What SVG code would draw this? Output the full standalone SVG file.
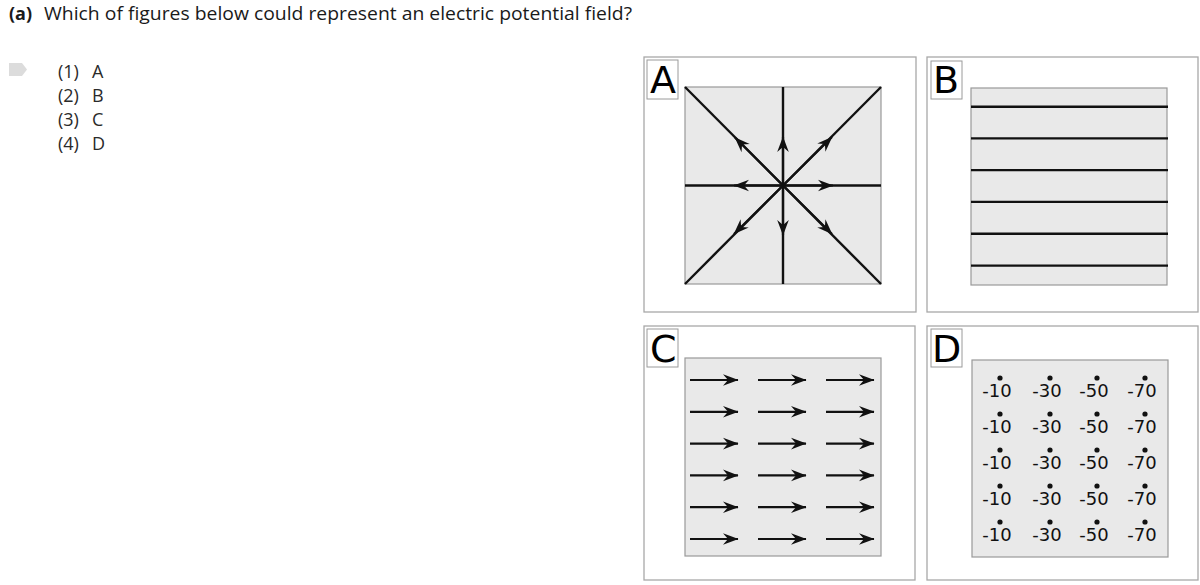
<svg xmlns="http://www.w3.org/2000/svg" width="1200" height="585" viewBox="0 0 1200 585">
<style>
.title{font-family:"Open Sans","Noto Sans",sans-serif;font-size:18px;fill:#1a1a1a}
.opt{font-family:"Open Sans","Noto Sans",sans-serif;font-size:18px;fill:#2a2a2a}
.outer{fill:#fff;stroke:#a8a8a8;stroke-width:1.3}
.lbox{fill:#fff;stroke:#9a9a9a;stroke-width:1}
.lbl{font-family:"DejaVu Sans",sans-serif;font-size:38px;fill:#000}
.inner{fill:#e9e9e9;stroke:#999;stroke-width:1.2}
.ln{stroke:#111;stroke-width:2.4;fill:none}
.ar{stroke:#111;stroke-width:2.2;fill:none;marker-end:url(#ah)}
.num{font-family:"DejaVu Sans",sans-serif;font-size:18px;fill:#111;text-anchor:middle}
</style>
<defs>
<marker id="ah" markerUnits="userSpaceOnUse" markerWidth="18" markerHeight="14" viewBox="-17 -7 18 14" refX="0" refY="0" orient="auto">
<path d="M0.5,0 L-15,-5.8 L-10,0 L-15,5.8 Z" fill="#111"/>
</marker>
</defs>
<rect width="1200" height="585" fill="#fff"/>
<g id="question">
<text class="title" x="9" y="20"><tspan font-weight="bold">(a)</tspan></text>
<text class="title" x="44" y="20" textLength="588" lengthAdjust="spacingAndGlyphs">Which of figures below could represent an electric potential field?</text>
<path d="M9,63 L22,63 L27,69.5 L22,76 L9,76 Z" fill="#dcdcdc"/>
<text class="opt" x="58" y="78">(1)</text><text class="opt" x="92" y="78">A</text>
<text class="opt" x="58" y="102">(2)</text><text class="opt" x="92" y="102">B</text>
<text class="opt" x="58" y="126">(3)</text><text class="opt" x="92" y="126">C</text>
<text class="opt" x="58" y="150">(4)</text><text class="opt" x="92" y="150">D</text>
</g>
<g id="panelA">
<rect class="outer" x="644" y="57" width="272" height="255"/>
<rect class="inner" x="685" y="87" width="196" height="197"/>
<rect class="lbox" x="647" y="60" width="31" height="39"/>
<text class="lbl" x="650" y="93">A</text>
<g id="connectorsA">
<line class="ln" x1="685" y1="87" x2="881" y2="284"/>
<line class="ln" x1="881" y1="87" x2="685" y2="284"/>
<line class="ln" x1="783" y1="87" x2="783" y2="284"/>
<line class="ln" x1="685" y1="185.5" x2="881" y2="185.5"/>
<line class="ar" x1="783" y1="185.5" x2="783" y2="137"/>
<line class="ar" x1="783" y1="185.5" x2="783" y2="235"/>
<line class="ar" x1="783" y1="185.5" x2="734" y2="185.5"/>
<line class="ar" x1="783" y1="185.5" x2="833" y2="185.5"/>
<line class="ar" x1="783" y1="185.5" x2="735" y2="137.5"/>
<line class="ar" x1="783" y1="185.5" x2="832" y2="137"/>
<line class="ar" x1="783" y1="185.5" x2="734" y2="234"/>
<line class="ar" x1="783" y1="185.5" x2="832" y2="234"/>
</g>
</g>
<g id="panelB">
<rect class="outer" x="927" y="57" width="271" height="255"/>
<rect class="inner" x="971" y="88" width="196" height="197"/>
<rect class="lbox" x="931" y="61" width="31" height="38"/>
<text class="lbl" x="933" y="93">B</text>
<g id="linesB">
<line class="ln" x1="971" y1="106.7" x2="1168" y2="106.7"/>
<line class="ln" x1="971" y1="138.4" x2="1168" y2="138.4"/>
<line class="ln" x1="971" y1="170.1" x2="1168" y2="170.1"/>
<line class="ln" x1="971" y1="201.9" x2="1168" y2="201.9"/>
<line class="ln" x1="971" y1="233.7" x2="1168" y2="233.7"/>
<line class="ln" x1="971" y1="265.6" x2="1168" y2="265.6"/>
</g>
</g>
<g id="panelC">
<rect class="outer" x="644" y="326" width="271" height="254"/>
<rect class="inner" x="685" y="358" width="196" height="198"/>
<rect class="lbox" x="647" y="329" width="31" height="38"/>
<text class="lbl" x="650" y="362">C</text>
<g id="arrowsC">
<line class="ar" x1="690" y1="380" x2="738" y2="380"/><line class="ar" x1="758" y1="380" x2="806" y2="380"/><line class="ar" x1="826" y1="380" x2="874" y2="380"/>
<line class="ar" x1="690" y1="411.8" x2="738" y2="411.8"/><line class="ar" x1="758" y1="411.8" x2="806" y2="411.8"/><line class="ar" x1="826" y1="411.8" x2="874" y2="411.8"/>
<line class="ar" x1="690" y1="443.6" x2="738" y2="443.6"/><line class="ar" x1="758" y1="443.6" x2="806" y2="443.6"/><line class="ar" x1="826" y1="443.6" x2="874" y2="443.6"/>
<line class="ar" x1="690" y1="475.4" x2="738" y2="475.4"/><line class="ar" x1="758" y1="475.4" x2="806" y2="475.4"/><line class="ar" x1="826" y1="475.4" x2="874" y2="475.4"/>
<line class="ar" x1="690" y1="507.2" x2="738" y2="507.2"/><line class="ar" x1="758" y1="507.2" x2="806" y2="507.2"/><line class="ar" x1="826" y1="507.2" x2="874" y2="507.2"/>
<line class="ar" x1="690" y1="539" x2="738" y2="539"/><line class="ar" x1="758" y1="539" x2="806" y2="539"/><line class="ar" x1="826" y1="539" x2="874" y2="539"/>
</g>
</g>
<g id="panelD">
<rect class="outer" x="927" y="326" width="271" height="254"/>
<rect class="inner" x="972" y="360" width="196" height="197"/>
<rect class="lbox" x="931" y="329" width="31" height="38"/>
<text class="lbl" x="932" y="362">D</text>
<g id="pointsD" fill="#111">
<circle cx="1000" cy="378" r="2.6"/><circle cx="1050" cy="378" r="2.6"/><circle cx="1097" cy="378" r="2.6"/><circle cx="1145" cy="378" r="2.6"/>
<circle cx="1000" cy="414" r="2.6"/><circle cx="1050" cy="414" r="2.6"/><circle cx="1097" cy="414" r="2.6"/><circle cx="1145" cy="414" r="2.6"/>
<circle cx="1000" cy="450" r="2.6"/><circle cx="1050" cy="450" r="2.6"/><circle cx="1097" cy="450" r="2.6"/><circle cx="1145" cy="450" r="2.6"/>
<circle cx="1000" cy="486" r="2.6"/><circle cx="1050" cy="486" r="2.6"/><circle cx="1097" cy="486" r="2.6"/><circle cx="1145" cy="486" r="2.6"/>
<circle cx="1000" cy="522" r="2.6"/><circle cx="1050" cy="522" r="2.6"/><circle cx="1097" cy="522" r="2.6"/><circle cx="1145" cy="522" r="2.6"/>
</g>
<g id="valuesD">
<text class="num" x="997" y="397">-10</text><text class="num" x="1047" y="397">-30</text><text class="num" x="1094" y="397">-50</text><text class="num" x="1142" y="397">-70</text>
<text class="num" x="997" y="433">-10</text><text class="num" x="1047" y="433">-30</text><text class="num" x="1094" y="433">-50</text><text class="num" x="1142" y="433">-70</text>
<text class="num" x="997" y="469">-10</text><text class="num" x="1047" y="469">-30</text><text class="num" x="1094" y="469">-50</text><text class="num" x="1142" y="469">-70</text>
<text class="num" x="997" y="505">-10</text><text class="num" x="1047" y="505">-30</text><text class="num" x="1094" y="505">-50</text><text class="num" x="1142" y="505">-70</text>
<text class="num" x="997" y="541">-10</text><text class="num" x="1047" y="541">-30</text><text class="num" x="1094" y="541">-50</text><text class="num" x="1142" y="541">-70</text>
</g>
</g>
</svg>
